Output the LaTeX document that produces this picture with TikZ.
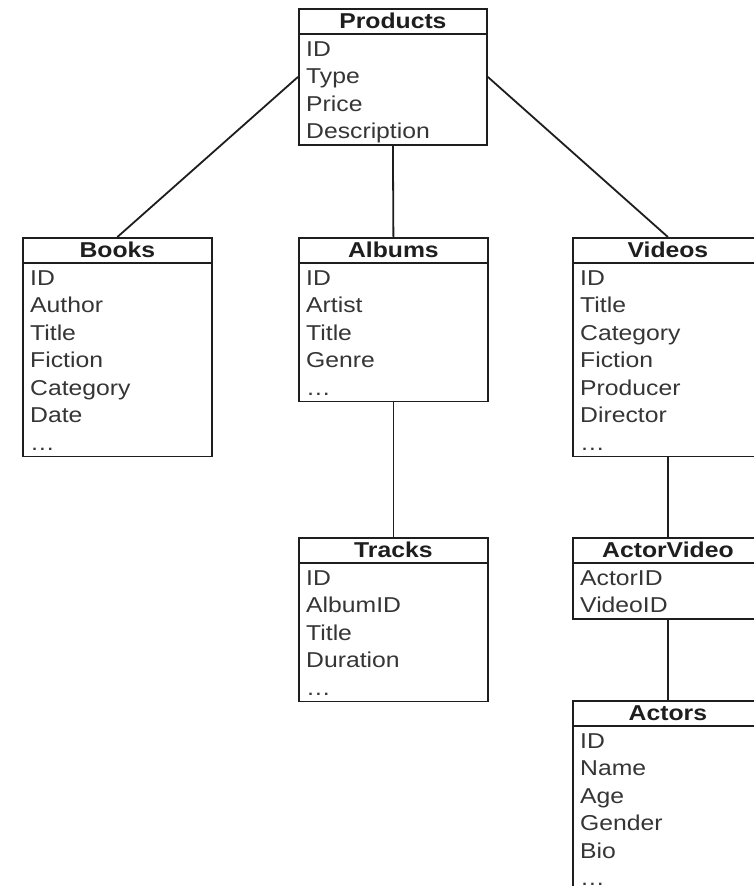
\documentclass[tikz,border=0pt]{standalone}
\usepackage{fontspec}
\setmainfont{Liberation Sans}[FakeStretch=1.15]
\usetikzlibrary{calc}

\definecolor{ink}{HTML}{1E1E1E}

\tikzset{
  tbl/.style={draw=ink, line width=1.8pt, rectangle, inner sep=0pt, fill=white},
  rule/.style={draw=ink, line width=1.8pt},
  hdr/.style={inner sep=0pt, text=ink, font=\fontsize{21.5}{26}\selectfont\bfseries},
  row/.style={inner sep=0pt, text=ink!90, font=\fontsize{21.5}{26}\selectfont},
  link/.style={draw=ink, line width=1.8pt},
}

% table: name, left x, top y, width, number of rows, title, rows
\newcommand\erbox[7]{%
  \node[tbl, minimum width=#4pt, minimum height={26pt+#5*27.5pt}, anchor=north west] (#1) at (#2,#3) {};
  \draw[rule] ($(#1.north west)+(0,26)$) -- ($(#1.north east)+(0,26)$);
  \node[hdr, anchor=base] (#1-title) at ($(#1.north)+(0,20)$) {#6};
  \foreach \r [count=\i] in {#7}
    \node[row, anchor=base west] (#1-row\i) at ($(#1.north west)+(8,{48+27.5*(\i-1)})$) {\r};
}

\begin{document}
\begin{tikzpicture}[x=1pt, y=-1pt]
  \useasboundingbox (0,0) rectangle (754,886);
  \clip (0,0) rectangle (754,886);
  \fill[white] (0,0) rectangle (754,886);

  \erbox{products}{298}{8}{188}{4}{Products}{ID,Type,Price,Description}
  \erbox{books}{22}{237}{189}{7}{Books}{ID,Author,Title,Fiction,Category,Date,…}
  \erbox{albums}{298}{237}{189}{5}{Albums}{ID,Artist,Title,Genre,…}
  \erbox{videos}{572}{237}{190}{7}{Videos}{ID,Title,Category,Fiction,Producer,Director,…}
  \erbox{tracks}{298}{537}{189}{5}{Tracks}{ID,AlbumID,Title,Duration,…}
  \erbox{actorvideo}{572}{537}{190}{2}{ActorVideo}{ActorID,VideoID}
  \erbox{actors}{572}{700}{190}{6}{Actors}{ID,Name,Age,Gender,Bio,…}

  \draw[link] (products.west) -- (books.north);
  \draw[link] (products.south) -- (albums.north);
  \draw[link] (products.east) -- (videos.north);
  \draw[link] (albums.south) -- (tracks.north);
  \draw[link] (videos.south) -- (actorvideo.north);
  \draw[link] (actorvideo.south) -- (actors.north);
\end{tikzpicture}
\end{document}
